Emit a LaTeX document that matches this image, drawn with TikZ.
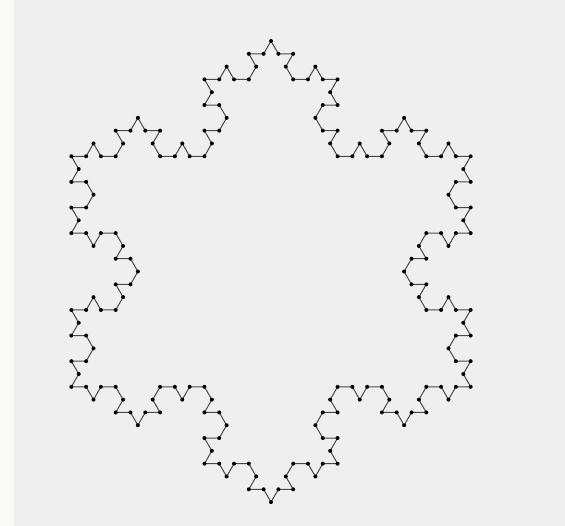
\documentclass[tikz,border=0pt]{standalone}
\usepackage{tikz}
\usetikzlibrary{calc}
\definecolor{bgcol}{HTML}{EFEFEF}
\definecolor{stripcol}{HTML}{F9F9F7}
\definecolor{edgecol}{HTML}{484848}

\begin{document}
\begin{tikzpicture}[x=1pt, y=1pt,
	declare function={kt(\d)=60*((\d==1)-(\d==2));},
	edge/.style={edgecol, line width=1pt},
	vdot/.style={fill=black}]
	\fill[bgcol] (0,0) rectangle (565,526);
	\fill[stripcol] (0,0) rectangle (14,526);
	\useasboundingbox (0,0) rectangle (565,526);
	% level 3 snowflake, 192 segments, top tip first
	\coordinate (v0) at (271,485);
	\draw[edge] (v0)
		\foreach \k [evaluate=\k as \a using {-60-120*div(\k-1,64)+kt(mod(div(\k-1,16),4))+kt(mod(div(\k-1,4),4))+kt(mod(\k-1,4))}] in {1,...,192} { -- ++(\a:14.79) coordinate (v\k) };
	\foreach \k in {0,...,191}
		\fill[vdot] (v\k) circle (2);
\end{tikzpicture}
\end{document}
